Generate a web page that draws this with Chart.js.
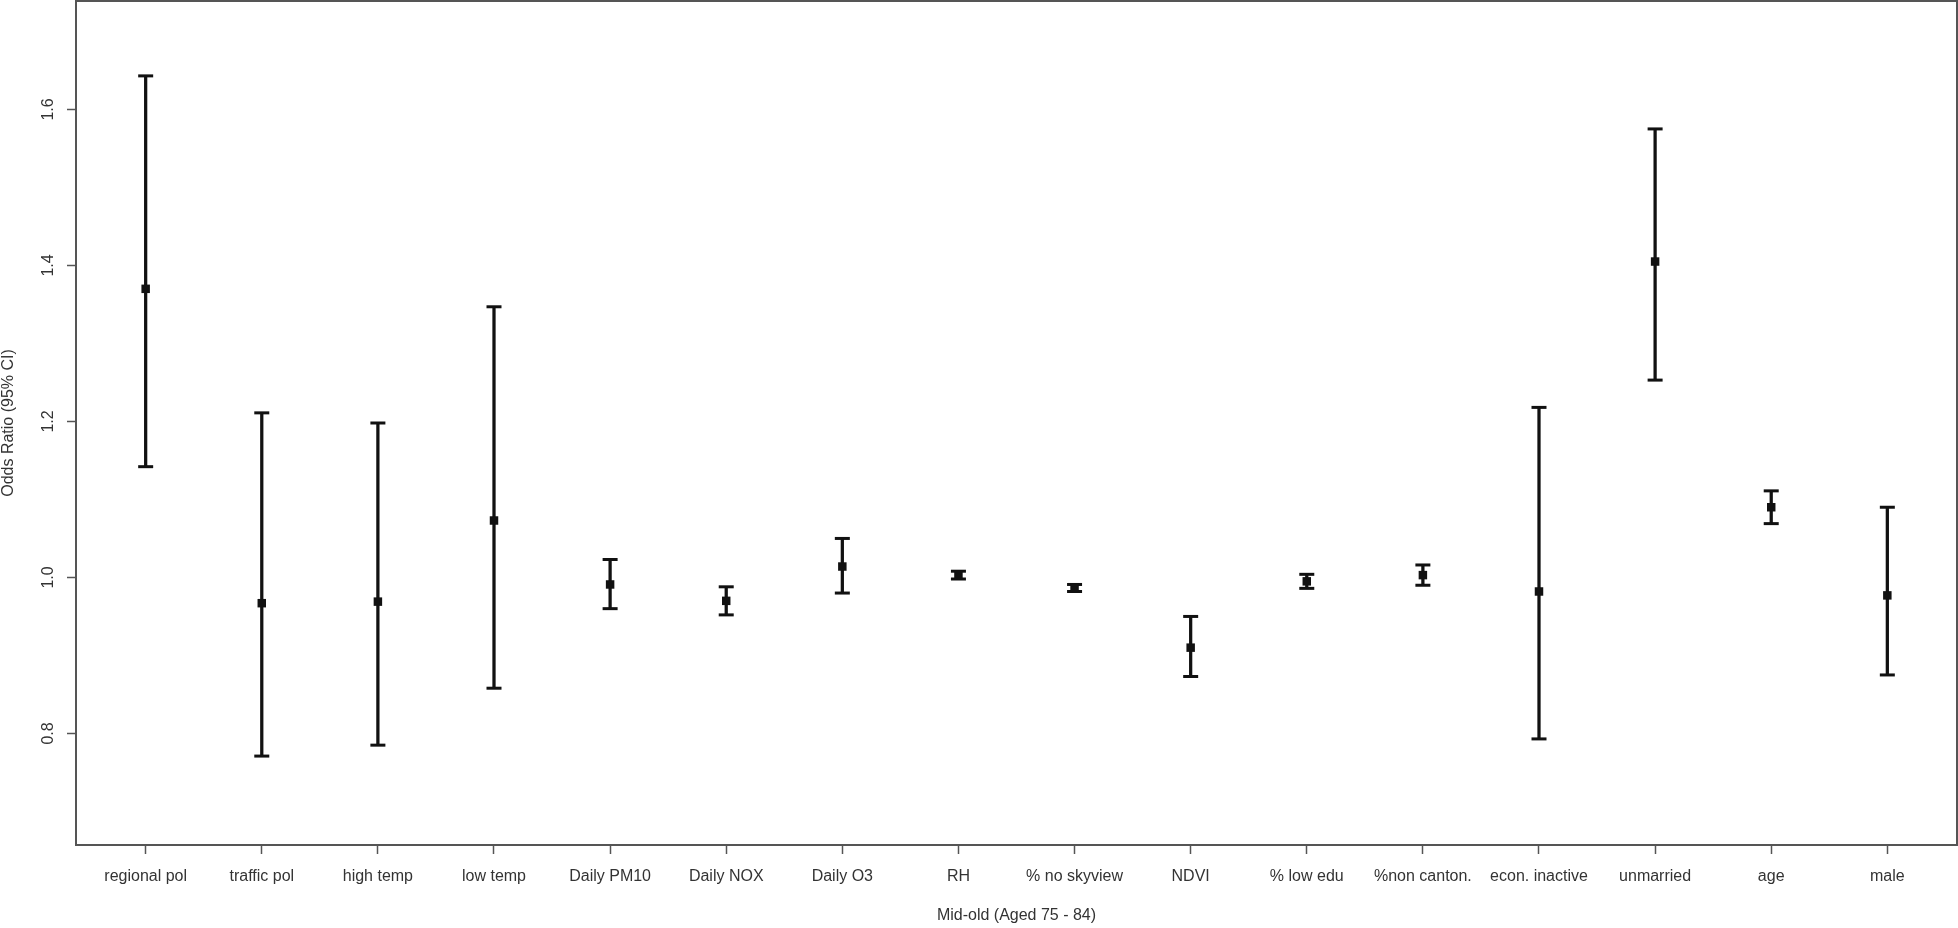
<!DOCTYPE html>
<html>
<head>
<meta charset="utf-8">
<script src="https://cdn.jsdelivr.net/npm/chart.js@4/dist/chart.umd.min.js"></script>
<style>
  html, body { margin: 0; padding: 0; background: #fff; }
  #wrap { width: 1958px; height: 928px; }
</style>
</head>
<body>
<div id="wrap"><canvas id="myChart" width="1958" height="928"></canvas></div>
<script>
// odds ratios with 95% CI
var categories = ["regional pol", "traffic pol", "high temp", "low temp", "Daily PM10", "Daily NOX",
  "Daily O3", "RH", "% no skyview", "NDVI", "% low edu", "%non canton.", "econ. inactive",
  "unmarried", "age", "male"];
var oddsRatio = [1.370, 0.967, 0.969, 1.073, 0.991, 0.970, 1.014, 1.003, 0.987, 0.910, 0.995, 1.003, 0.982, 1.405, 1.090, 0.977];
var lowerCI   = [1.142, 0.771, 0.785, 0.858, 0.960, 0.952, 0.980, 0.998, 0.982, 0.873, 0.986, 0.990, 0.793, 1.253, 1.069, 0.875];
var upperCI   = [1.643, 1.211, 1.198, 1.347, 1.023, 0.988, 1.050, 1.008, 0.991, 0.950, 1.004, 1.016, 1.218, 1.575, 1.111, 1.090];
var yTicks = [0.8, 1.0, 1.2, 1.4, 1.6];

var FONT = "'Liberation Sans', Arial, sans-serif";
var TEXT = "#333";
var AXIS = "#555";
var INK = "#111";

var positions = categories.map(function (_, i) { return i + 1; });

var boxAndLabels = {
  id: "boxAndLabels",
  afterDraw: function (chart) {
    var ctx = chart.ctx;
    var a = chart.chartArea;
    ctx.save();
    ctx.strokeStyle = AXIS;
    ctx.lineWidth = 2;
    ctx.strokeRect(a.left, a.top, a.right - a.left, a.bottom - a.top);

    // y tick labels, rotated like R's default
    var yScale = chart.scales.y;
    ctx.fillStyle = TEXT;
    ctx.font = "16px " + FONT;
    ctx.textAlign = "center";
    ctx.textBaseline = "middle";
    yTicks.forEach(function (v) {
      var y = yScale.getPixelForValue(v);
      ctx.save();
      ctx.translate(49, y);
      ctx.rotate(-Math.PI / 2);
      ctx.fillText(v.toFixed(1), 0, 0);
      ctx.restore();
    });
    ctx.restore();
  }
};

var ctx = document.getElementById("myChart").getContext("2d");
new Chart(ctx, {
  type: "scatter",
  data: {
    datasets: [
      {
        label: "Odds ratio",
        data: positions.map(function (x, i) { return { x: x, y: oddsRatio[i] }; }),
        pointStyle: "rect",
        pointRadius: 6,
        pointHoverRadius: 6,
        backgroundColor: INK,
        borderWidth: 0,
        order: 0
      },
      {
        label: "upper cap",
        data: positions.map(function (x, i) { return { x: x, y: upperCI[i] }; }),
        pointStyle: "line",
        pointRadius: 7.5,
        pointHoverRadius: 7.5,
        borderColor: INK,
        borderWidth: 3,
        order: 1
      },
      {
        label: "lower cap",
        data: positions.map(function (x, i) { return { x: x, y: lowerCI[i] }; }),
        pointStyle: "line",
        pointRadius: 7.5,
        pointHoverRadius: 7.5,
        borderColor: INK,
        borderWidth: 3,
        order: 1
      },
      {
        type: "bar",
        label: "95% CI",
        data: positions.map(function (x, i) { return { x: x, y: [lowerCI[i], upperCI[i]] }; }),
        backgroundColor: INK,
        borderWidth: 0,
        barThickness: 2.6,
        order: 2
      }
    ]
  },
  options: {
    responsive: false,
    animation: false,
    layout: { autoPadding: false, padding: { top: 1, right: 1, left: 0, bottom: 0 } },
    plugins: {
      legend: { display: false },
      tooltip: { enabled: false }
    },
    scales: {
      x: {
        type: "linear",
        min: 0.4,
        max: 16.6,
        offset: false,
        afterBuildTicks: function (scale) {
          scale.ticks = positions.map(function (v) { return { value: v }; });
        },
        afterFit: function (scale) { scale.height = 83; },
        ticks: {
          autoSkip: false,
          maxRotation: 0,
          padding: 13,
          color: TEXT,
          font: { family: FONT, size: 16 },
          callback: function (v) { return categories[v - 1]; }
        },
        grid: { offset: false, drawOnChartArea: false, drawTicks: true, tickLength: 9, tickColor: AXIS, tickWidth: 1.5 },
        border: { display: false },
        title: {
          display: true,
          text: "Mid-old (Aged 75 - 84)",
          color: TEXT,
          font: { family: FONT, size: 16, lineHeight: 1 },
          padding: { top: 0, bottom: 4 }
        }
      },
      y: {
        type: "linear",
        min: 0.657,
        max: 1.739,
        afterBuildTicks: function (scale) {
          scale.ticks = yTicks.map(function (v) { return { value: v }; });
        },
        afterFit: function (scale) { scale.width = 76; },
        ticks: { display: false },
        grid: { drawOnChartArea: false, drawTicks: true, tickLength: 9, tickColor: AXIS, tickWidth: 1.5 },
        border: { display: false },
        title: {
          display: true,
          text: "Odds Ratio (95% CI)",
          color: TEXT,
          font: { family: FONT, size: 16, lineHeight: 1 },
          padding: { top: 1, bottom: 0 }
        }
      }
    }
  },
  plugins: [boxAndLabels]
});
</script>
</body>
</html>
